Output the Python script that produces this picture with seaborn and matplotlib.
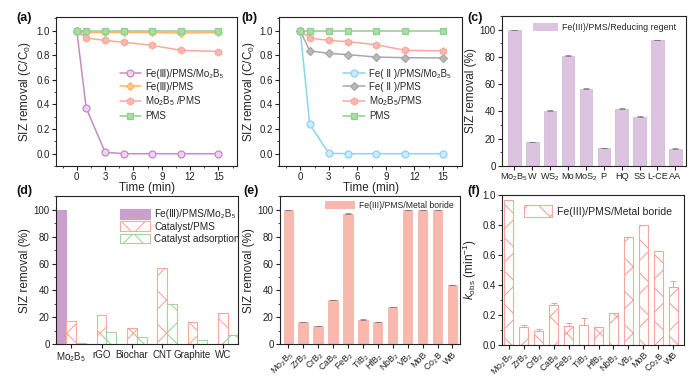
import numpy as np
import pandas as pd
import seaborn as sns
import matplotlib.pyplot as plt
from matplotlib.patches import Patch
from matplotlib.ticker import MultipleLocator

# (a) / (b) kinetics
time_min = [0, 1, 3, 5, 8, 11, 15]
a_fe3_pms_mo2b5 = [1.0, 0.37, 0.012, 0.0, 0.0, 0.0, 0.0]
a_fe3_pms = [1.0, 0.985, 0.985, 0.985, 0.985, 0.98, 0.985]
a_mo2b5_pms = [1.0, 0.94, 0.92, 0.905, 0.88, 0.84, 0.83]
a_pms = [1.0, 1.0, 1.0, 1.0, 1.0, 1.0, 1.0]
a_labels = ["Fe(Ⅲ)/PMS/Mo₂B₅", "Fe(Ⅲ)/PMS", "Mo$_2$B$_5$ /PMS", "PMS"]

b_fe2_pms_mo2b5 = [1.0, 0.24, 0.003, 0.0, 0.0, 0.0, 0.0]
b_fe2_pms = [1.0, 0.835, 0.815, 0.805, 0.785, 0.78, 0.778]
b_mo2b5_pms = [1.0, 0.94, 0.92, 0.91, 0.885, 0.84, 0.835]
b_pms = [1.0, 1.0, 1.0, 1.0, 1.0, 1.0, 1.0]
b_labels = ["Fe( Ⅱ )/PMS/Mo₂B₅", "Fe( Ⅱ )/PMS", "Mo$_2$B$_5$/PMS", "PMS"]

# (c) reducing agents
c_labels = ["Mo$_2$B$_5$", "W", "WS$_2$", "Mo", "MoS$_2$", "P", "HQ", "SS", "L-CE", "AA"]
c_removal = [99.6, 17.5, 40.3, 80.7, 56.5, 13.0, 42.0, 35.9, 92.3, 12.8]
c_err = [0.4, 0.4, 0.4, 0.4, 0.4, 0.4, 0.4, 0.4, 0.4, 0.4]

# (d) catalysts
d_catalysts = ["Mo$_2$B$_5$", "rGO", "Biochar", "CNT", "Graphite", "WC"]
d_fe3_mo2b5 = [100, np.nan, np.nan, np.nan, np.nan, np.nan]
d_catalyst_pms = [17, 22, 12, 57, 16.5, 23.5]
d_adsorption = [1, 9, 5.5, 30, 3, 7]
d_systems = ["Fe(Ⅲ)/PMS/Mo₂B₅", "Catalyst/PMS", "Catalyst adsorption"]

# (e) / (f) metal borides
borides = ["Mo$_2$B$_5$", "ZrB$_2$", "CrB$_2$", "CaB$_6$", "FeB$_2$", "TiB$_2$",
           "HfB$_2$", "NbB$_2$", "VB$_2$", "MoB", "Co$_2$B", "WB"]
e_removal = [100, 16.3, 13.2, 32.7, 97.2, 18.3, 16.2, 27.6, 100, 100, 100, 44.0]
e_err = [0, 0.3, 0.3, 0.3, 0.4, 0.3, 0.3, 0.4, 0, 0, 0, 0.3]
f_kobs = [0.97, 0.12, 0.095, 0.265, 0.125, 0.135, 0.12, 0.215, 0.72, 0.80, 0.63, 0.385]
f_err = [0, 0.012, 0.008, 0.012, 0.02, 0.045, 0, 0, 0, 0, 0, 0.045]

sns.set_theme(style='ticks')
plt.rcParams['font.family'] = ['Liberation Sans', 'DejaVu Sans']
plt.rcParams.update({
    'mathtext.fontset': 'custom',
    'mathtext.rm': 'Liberation Sans',
    'mathtext.it': 'Liberation Sans:italic',
    'mathtext.bf': 'Liberation Sans:bold',
    'hatch.linewidth': 0.8,
    'xtick.labelsize': 7,
    'ytick.labelsize': 7,
    'axes.labelsize': 8.5,
    'legend.fontsize': 7,
})

fig = plt.figure(figsize=(7, 3.79), dpi=100)
ax_a = fig.add_axes([0.080, 0.562, 0.259, 0.393])
ax_b = fig.add_axes([0.399, 0.562, 0.261, 0.393])
ax_c = fig.add_axes([0.717, 0.562, 0.263, 0.396])
ax_d = fig.add_axes([0.080, 0.092, 0.260, 0.390])
ax_e = fig.add_axes([0.400, 0.092, 0.257, 0.390])
ax_f = fig.add_axes([0.717, 0.090, 0.260, 0.395])


def style_axes(ax):
    for s in ax.spines.values():
        s.set_visible(True)
        s.set_color('#222222')
        s.set_linewidth(0.8)
    ax.tick_params(which='major', direction='out', length=3, width=0.8,
                   pad=1.5, colors='#222222', top=False, right=False)
    ax.tick_params(which='minor', direction='out', length=1.6, width=0.6,
                   top=False, right=False)


def line_panel(ax, series, labels, colors, faces, markers):
    for vals, lab, c, fc, m in zip(series, labels, colors, faces, markers):
        ms = 4.2 if m == 'D' else 5
        sns.lineplot(x=time_min, y=vals, ax=ax, color=c, marker=m,
                     markersize=ms, markerfacecolor=fc, markeredgecolor=c,
                     markeredgewidth=0.9, linewidth=1.1, label=lab)
    style_axes(ax)
    ax.set_xlim(-2.2, 17)
    ax.set_ylim(-0.1, 1.11)
    ax.set_xticks([0, 3, 6, 9, 12, 15])
    ax.xaxis.set_minor_locator(MultipleLocator(1.5))
    ax.set_yticks([0.0, 0.2, 0.4, 0.6, 0.8, 1.0])
    ax.yaxis.set_minor_locator(MultipleLocator(0.1))
    ax.set_xlabel("Time (min)", labelpad=0)
    ax.set_ylabel("SIZ removal (C/C$_0$)", labelpad=2)
    ax.legend(loc='upper left', bbox_to_anchor=(0.33, 0.68), frameon=False,
              handlelength=2.2, labelspacing=0.3, handletextpad=0.4,
              borderaxespad=0)


line_panel(ax_a, [a_fe3_pms_mo2b5, a_fe3_pms, a_mo2b5_pms, a_pms], a_labels,
           ['#C48BC4', '#FDB56A', '#F8A99B', '#8ED08E'],
           ['#EBD3EB', '#FDC88A', '#FAB9AE', '#A8DDA8'],
           ['o', 'D', 'h', 's'])
line_panel(ax_b, [b_fe2_pms_mo2b5, b_fe2_pms, b_mo2b5_pms, b_pms], b_labels,
           ['#8DD3F2', '#A8A8A8', '#F8A99B', '#8ED08E'],
           ['#CDEBF8', '#B8B8B8', '#FAB9AE', '#A8DDA8'],
           ['o', 'D', 'h', 's'])

# (c)
purple_light = '#DCC3E0'
sns.barplot(x=c_labels, y=c_removal, color=purple_light, saturation=1,
            width=0.7, edgecolor='#CDB2D2', linewidth=0.5, ax=ax_c)
ax_c.errorbar(range(len(c_labels)), c_removal, yerr=[np.zeros(len(c_err)), c_err],
              fmt='none', ecolor='#777777', elinewidth=0.5, capsize=2, capthick=0.5)
style_axes(ax_c)
ax_c.set_xlim(-0.7, 9.6)
ax_c.set_ylim(0, 110)
ax_c.set_yticks(range(0, 101, 20))
ax_c.yaxis.set_minor_locator(MultipleLocator(10))
ax_c.set_ylabel("SIZ removal (%)", labelpad=2)
ax_c.tick_params(axis='x', pad=1, labelsize=6.6)
ax_c.legend(handles=[Patch(facecolor=purple_light, edgecolor='none',
                           label="Fe(III)/PMS/Reducing regent")],
            loc='upper left', bbox_to_anchor=(0.14, 0.99), frameon=False,
            fontsize=6.4, handlelength=2.8, handleheight=1.1,
            handletextpad=0.5, borderaxespad=0.2)

# (d)
d_df = pd.DataFrame({
    'catalyst': d_catalysts * 3,
    'removal': d_fe3_mo2b5 + d_catalyst_pms + d_adsorption,
    'system': np.repeat(d_systems, len(d_catalysts)),
})
d_fill = ['#C9A0CB', 'white', 'white']
d_edge = ['#C9A0CB', '#F7A99C', '#9ED69E']
d_hatch = [None, 'x', 'x']
sns.barplot(data=d_df, x='catalyst', y='removal', hue='system',
            hue_order=d_systems, order=d_catalysts, width=0.98, gap=0,
            saturation=1, legend=False, ax=ax_d)
for cont, fc, ec, h in zip(ax_d.containers, d_fill, d_edge, d_hatch):
    for bar in cont:
        bar.set_facecolor(fc)
        bar.set_edgecolor(ec)
        bar.set_hatch(h)
        bar.set_linewidth(0.8)
style_axes(ax_d)
ax_d.set_xlim(-0.5, 5.5)
ax_d.set_ylim(0, 110)
ax_d.set_yticks(range(0, 101, 20))
ax_d.yaxis.set_minor_locator(MultipleLocator(10))
ax_d.set_xlabel("")
ax_d.set_ylabel("SIZ removal (%)", labelpad=2)
ax_d.legend(handles=[Patch(facecolor=fc, edgecolor=ec, hatch=h, label=lab, linewidth=0.8)
                     for fc, ec, h, lab in zip(d_fill, d_edge, d_hatch, d_systems)],
            loc='upper left', bbox_to_anchor=(0.33, 0.94), frameon=False,
            fontsize=7.2, handlelength=3.0, handleheight=1.1, labelspacing=0.2,
            handletextpad=0.4, borderaxespad=0)

# (e)
salmon = '#F8B8AD'
sns.barplot(x=borides, y=e_removal, color=salmon, saturation=1, width=0.63,
            edgecolor='#F4ACA0', linewidth=0.5, ax=ax_e)
ax_e.errorbar(range(len(borides)), e_removal, yerr=[np.zeros(len(e_err)), e_err],
              fmt='none', ecolor='#777777', elinewidth=0.5, capsize=2, capthick=0.5)
style_axes(ax_e)
ax_e.set_xlim(-0.55, 11.5)
ax_e.set_ylim(0, 110)
ax_e.set_yticks(range(0, 101, 20))
ax_e.yaxis.set_minor_locator(MultipleLocator(10))
ax_e.set_ylabel("SIZ removal (%)", labelpad=2)
ax_e.tick_params(axis='x', pad=1, labelsize=6.4)
plt.setp(ax_e.get_xticklabels(), rotation=45, ha='right', rotation_mode='anchor')
ax_e.legend(handles=[Patch(facecolor=salmon, edgecolor='none',
                           label="Fe(III)/PMS/Metal boride")],
            loc='upper right', bbox_to_anchor=(0.99, 1.0), frameon=False,
            fontsize=6.2, handlelength=3.4, handleheight=1.0,
            handletextpad=0.5, borderaxespad=0.1)

# (f)
hatch_edge = '#F4A79D'
sns.barplot(x=borides, y=f_kobs, color='white', saturation=1, width=0.62,
            edgecolor=hatch_edge, linewidth=0.8, ax=ax_f)
for bar in ax_f.patches:
    bar.set_hatch('x')
    bar.set_edgecolor(hatch_edge)
ax_f.errorbar(range(len(borides)), f_kobs, yerr=[np.zeros(len(f_err)), f_err],
              fmt='none', ecolor='#E8A39C', elinewidth=0.7, capsize=2, capthick=0.7)
style_axes(ax_f)
ax_f.set_xlim(-0.45, 11.7)
ax_f.set_ylim(0, 1.0)
ax_f.set_yticks([0.0, 0.2, 0.4, 0.6, 0.8, 1.0])
ax_f.yaxis.set_minor_locator(MultipleLocator(0.1))
ax_f.set_ylabel(r"$k_{\mathrm{obs}}$ (min$^{-1}$)", labelpad=2)
ax_f.tick_params(axis='x', pad=1, labelsize=6.4)
plt.setp(ax_f.get_xticklabels(), rotation=45, ha='right', rotation_mode='anchor')
ax_f.legend(handles=[Patch(facecolor='white', edgecolor=hatch_edge, hatch='x',
                           linewidth=0.8, label="Fe(III)/PMS/Metal boride")],
            loc='upper left', bbox_to_anchor=(0.1, 0.96), frameon=False,
            fontsize=7.6, handlelength=2.6, handleheight=1.3,
            handletextpad=0.5, borderaxespad=0)

for x, y, lab in [(0.024, 0.945, '(a)'), (0.345, 0.945, '(b)'), (0.668, 0.945, '(c)'),
                  (0.024, 0.487, '(d)'), (0.347, 0.487, '(e)'), (0.668, 0.487, '(f)')]:
    fig.text(x, y, lab, fontsize=9, fontweight='bold', color='#111111')

fig.savefig('out.png', dpi=100)
